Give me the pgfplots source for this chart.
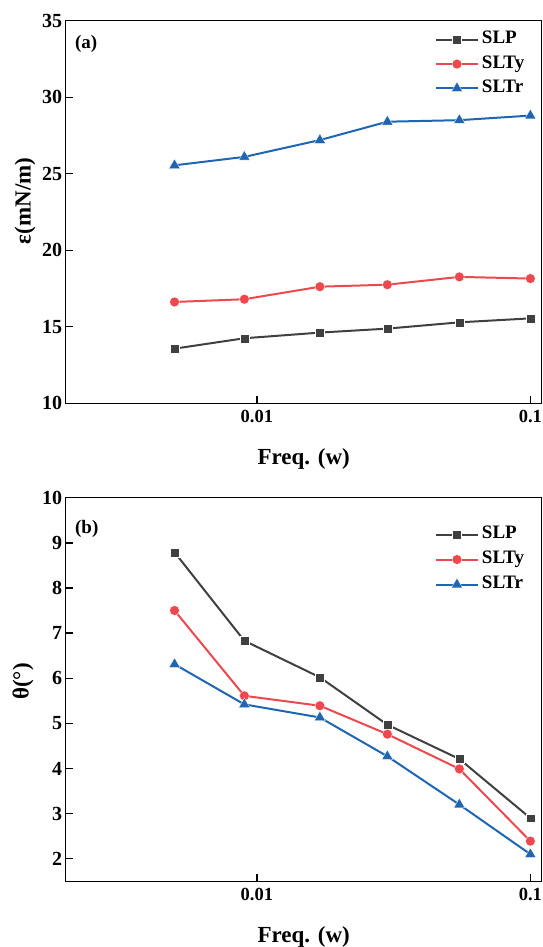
\documentclass[border=0pt]{standalone}
\usepackage{fontspec}
\setmainfont{Liberation Serif}
\usepackage{pgfplots}
\pgfplotsset{compat=1.18}

\definecolor{cslp}{RGB}{64,64,64}
\definecolor{csly}{RGB}{238,72,79}
\definecolor{cslr}{RGB}{31,101,178}

% shared settings of both panels
\pgfplotsset{
  width=476pt, scale only axis,
  tick align=inside, xtick pos=bottom, ytick pos=left,
  major tick length=7pt,
  axis line style={line width=1.4pt},
  every tick/.style={black, line width=1.4pt},
  /pgf/number format/assume math mode=true,
  x tick label style={font=\bfseries\fontsize{18.5}{20}\selectfont, yshift=-3pt},
  y tick label style={font=\bfseries\fontsize{20}{22}\selectfont},
  label style={font=\bfseries\fontsize{23}{26}\selectfont},
  legend cell align=left,
  legend style={draw=none, fill=none, inner sep=0pt, outer sep=0pt,
    anchor=north west, column sep=2pt,
    font=\bfseries\fontsize{19}{21}\selectfont,
    nodes={inner sep=1pt, text height=13pt, text depth=5pt}},
  legend image code/.code={\draw[mark repeat=2,mark phase=2] plot coordinates {(0pt,0pt) (21pt,0pt) (42pt,0pt)};},
  slp/.style={cslp, line width=2pt, mark=square*, mark size=4.4pt,
    mark options={fill=cslp, draw=white, line width=0.3pt}},
  sly/.style={csly, line width=2pt, mark=*, mark size=4.9pt,
    mark options={fill=csly, draw=white, line width=0.3pt}},
  slr/.style={cslr, line width=2pt, mark=triangle*, mark size=6.4pt,
    mark options={fill=cslr, draw=white, line width=0.3pt}},
}

\begin{document}
\begin{tikzpicture}
\path[use as bounding box] (-65.7pt,-543.7pt) rectangle (477.3pt,403.3pt);

% (a) surface elasticity
\begin{axis}[at={(0pt,0pt)}, anchor=south west, height=382.6pt,
    xmode=log, xmin=0.002, xmax=0.11,
    xtick={0.01,0.1}, xticklabels={0.01,0.1}, xminorticks=false,
    ymin=10, ymax=35, ytick={10,15,20,25,30,35},
    xlabel={Freq. (w)},
    xlabel style={at={(axis description cs:0.5,0)}, anchor=base, yshift=-61.5pt},
    ylabel={ε(mN/m)},
    ylabel style={at={(axis description cs:-0.0855,0.529)}, anchor=center},
    legend style={at={(rel axis cs:0.7758,0.976)}, row sep=4.2pt}]
\addplot[slp] coordinates {(0.005,13.57) (0.009,14.25) (0.017,14.62) (0.03,14.88) (0.055,15.29) (0.1,15.55)};
\addplot[sly] coordinates {(0.005,16.62) (0.009,16.80) (0.017,17.62) (0.03,17.75) (0.055,18.26) (0.1,18.15)};
\addplot[slr] coordinates {(0.005,25.55) (0.009,26.10) (0.017,27.20) (0.03,28.40) (0.055,28.50) (0.1,28.80)};
\legend{SLP, SLTy, SLTr}
\node[anchor=west, inner sep=0pt, font=\bfseries\fontsize{19}{21}\selectfont] at (rel axis cs:0.0195,0.939) {(a)};
\end{axis}

% (b) phase angle
\begin{axis}[at={(0pt,-94.4pt)}, anchor=north west, height=383.6pt,
    xmode=log, xmin=0.002, xmax=0.11,
    xtick={0.01,0.1}, xticklabels={0.01,0.1}, xminorticks=false,
    ymin=1.5, ymax=10, ytick={2,3,...,10},
    xlabel={Freq. (w)},
    xlabel style={at={(axis description cs:0.5,0)}, anchor=base, yshift=-61.5pt},
    ylabel={θ(°)},
    ylabel style={at={(axis description cs:-0.0897,0.521)}, anchor=center},
    legend style={at={(rel axis cs:0.7758,0.93)}, row sep=5pt}]
\addplot[slp] coordinates {(0.005,8.79) (0.009,6.83) (0.017,6.02) (0.03,4.97) (0.055,4.21) (0.1,2.90)};
\addplot[sly] coordinates {(0.005,7.50) (0.009,5.61) (0.017,5.39) (0.03,4.76) (0.055,3.99) (0.1,2.39)};
\addplot[slr] coordinates {(0.005,6.31) (0.009,5.42) (0.017,5.13) (0.03,4.27) (0.055,3.20) (0.1,2.10)};
\legend{SLP, SLTy, SLTr}
\node[anchor=west, inner sep=0pt, font=\bfseries\fontsize{19}{21}\selectfont] at (rel axis cs:0.0195,0.918) {(b)};
\end{axis}
\end{tikzpicture}
\end{document}
